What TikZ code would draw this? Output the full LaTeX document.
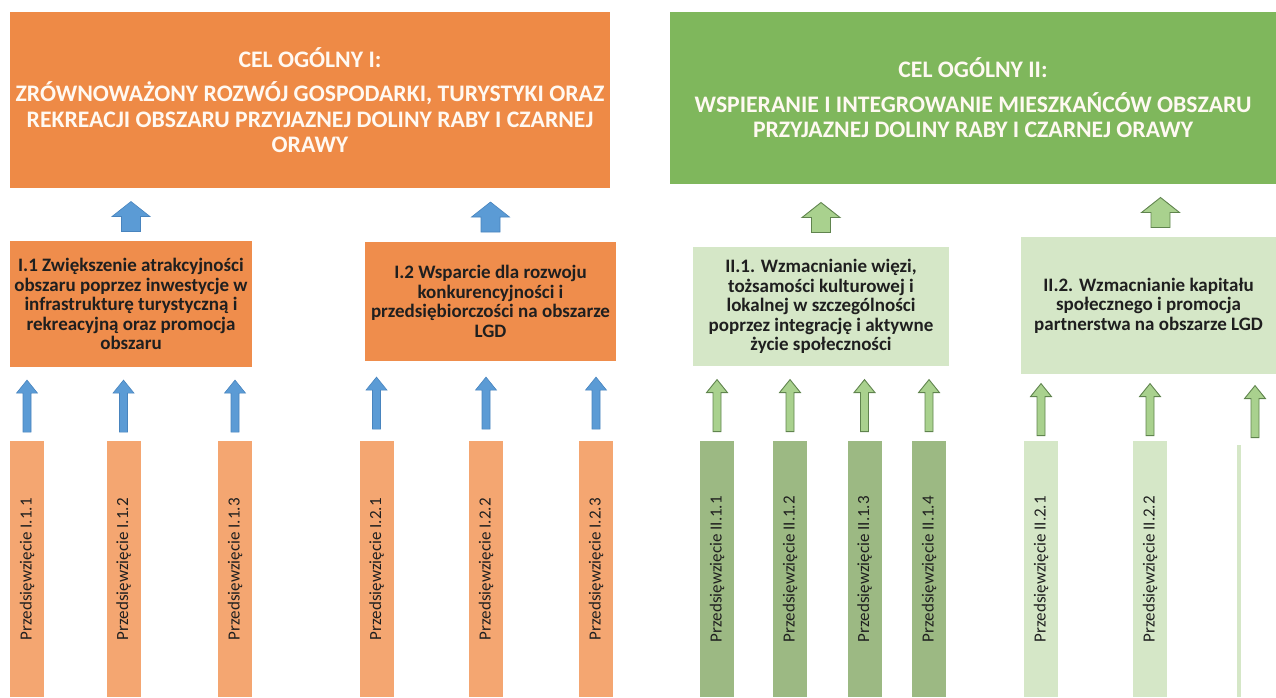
\documentclass[tikz,border=0pt]{standalone}
\usepackage{fontspec}
\setmainfont{Carlito}
\usepackage{graphicx}
\usetikzlibrary{calc}
\definecolor{goalOrange}{RGB}{238,138,70}
\definecolor{aimOrange}{RGB}{239,141,76}
\definecolor{taskOrange}{RGB}{244,166,113}
\definecolor{goalGreen}{RGB}{127,183,92}
\definecolor{aimGreen}{RGB}{213,231,199}
\definecolor{taskGreen}{RGB}{156,185,131}
\definecolor{taskLight}{RGB}{213,231,199}
\definecolor{arrowBlue}{RGB}{91,155,213}
\definecolor{arrowBlueEdge}{RGB}{72,132,190}
\definecolor{arrowGreen}{RGB}{169,209,142}
\definecolor{arrowGreenEdge}{RGB}{96,132,78}
\colorlet{goalText}{white!95!orange}
\colorlet{darkText}{black!88}
\tikzset{blockup/.style n args={4}{to path={let \p1=(\tikztostart),
  \p2=($(\tikztostart)!.5!(\tikztotarget)$) in
  (\x1-#2,\y2-2pt-#1/2) -- (\x1-#2,\y2-2pt+#1/2-#4) -- (\x1-#3,\y2-2pt+#1/2-#4)
  -- (\x1,\y2-2pt+#1/2) -- (\x1+#3,\y2-2pt+#1/2-#4) -- (\x1+#2,\y2-2pt+#1/2-#4)
  -- (\x1+#2,\y2-2pt-#1/2) -- cycle}}}
\tikzstyle{goal}=[rectangle, align=center, inner sep=0pt, text=goalText,
  font=\bfseries\fontsize{23.7}{25.5}\selectfont]
\tikzstyle{aim}=[rectangle, align=center, inner sep=0pt, text=darkText,
  font=\bfseries\fontsize{19}{19.6}\selectfont]
\tikzstyle{task}=[rectangle, anchor=north, inner sep=0pt, minimum width=34pt,
  minimum height=256pt, text=darkText, font=\fontsize{17}{20}\selectfont]
\tikzstyle{bigup}=[blockup={30pt}{9.5pt}{19pt}{15pt}]
\tikzstyle{smallup}=[blockup={52pt}{4pt}{10.5pt}{13pt}]
\tikzstyle{tipI}=[fill=arrowBlue, draw=arrowBlueEdge, line width=0.6pt]
\tikzstyle{tipII}=[fill=arrowGreen, draw=arrowGreenEdge, line width=0.9pt]

\begin{document}
\begin{tikzpicture}[x=1pt, y=-1pt]
  \useasboundingbox (0,0) rectangle (1276,697);
  \node (g1) [goal, fill=goalOrange, minimum width=600pt, minimum height=176pt] at (310,100)
    {CEL OGÓLNY I:\\[9pt]ZRÓWNOWAŻONY ROZWÓJ GOSPODARKI, TURYSTYKI ORAZ\\REKREACJI OBSZARU PRZYJAZNEJ DOLINY RABY I CZARNEJ\\ORAWY};
  \node (g2) [goal, fill=goalGreen, minimum width=606pt, minimum height=172pt] at (973,98)
    {CEL OGÓLNY II:\\[9pt]WSPIERANIE I INTEGROWANIE MIESZKAŃCÓW OBSZARU\\PRZYJAZNEJ DOLINY RABY I CZARNEJ ORAWY};

  \node (a11) [aim, fill=aimOrange, minimum width=242pt, minimum height=126pt] at (131,304)
    {I.1 Zwiększenie atrakcyjności\\obszaru poprzez inwestycje w\\infrastrukturę turystyczną i\\rekreacyjną oraz promocja\\obszaru};
  \node (a12) [aim, fill=aimOrange, minimum width=251pt, minimum height=119pt] at (490.5,301.5)
    {I.2 Wsparcie dla rozwoju\\konkurencyjności i\\przedsiębiorczości na obszarze\\LGD};
  \node (a21) [aim, fill=aimGreen, minimum width=256pt, minimum height=119pt] at (821,306.5)
    {II.1. Wzmacnianie więzi,\\tożsamości kulturowej i\\lokalnej w szczególności\\poprzez integrację i aktywne\\życie społeczności};
  \node (a22) [aim, fill=aimGreen, minimum width=255pt, minimum height=137pt] at (1148.5,305.5)
    {II.2. Wzmacnianie kapitału\\społecznego i promocja\\partnerstwa na obszarze LGD};

  \node (t111) [task, fill=taskOrange] at (27,441) {\rotatebox{90}{Przedsięwzięcie I.1.1}};
  \node (t112) [task, fill=taskOrange] at (123.5,441) {\rotatebox{90}{Przedsięwzięcie I.1.2}};
  \node (t113) [task, fill=taskOrange] at (235,441) {\rotatebox{90}{Przedsięwzięcie I.1.3}};
  \node (t121) [task, fill=taskOrange] at (376.5,441) {\rotatebox{90}{Przedsięwzięcie I.2.1}};
  \node (t122) [task, fill=taskOrange] at (486,441) {\rotatebox{90}{Przedsięwzięcie I.2.2}};
  \node (t123) [task, fill=taskOrange] at (596,441) {\rotatebox{90}{Przedsięwzięcie I.2.3}};
  \node (t211) [task, fill=taskGreen] at (717,441) {\rotatebox{90}{Przedsięwzięcie II.1.1}};
  \node (t212) [task, fill=taskGreen] at (790,441) {\rotatebox{90}{Przedsięwzięcie II.1.2}};
  \node (t213) [task, fill=taskGreen] at (864.5,441) {\rotatebox{90}{Przedsięwzięcie II.1.3}};
  \node (t214) [task, fill=taskGreen] at (929,441) {\rotatebox{90}{Przedsięwzięcie II.1.4}};
  \node (t221) [task, fill=taskLight] at (1041,441) {\rotatebox{90}{Przedsięwzięcie II.2.1}};
  \node (t222) [task, fill=taskLight] at (1150,441) {\rotatebox{90}{Przedsięwzięcie II.2.2}};
  \node (t223) [task, fill=taskLight, minimum width=4pt, minimum height=252pt] at (1239,445) {};

  \draw [tipI, bigup] (a11.north) to (g1.south);
  \draw [tipI, bigup] (a12.north) to (g1.south -| a12.north);
  \draw [tipII, bigup] (a21.north) to (g2.south -| a21.north);
  \draw [tipII, bigup] ([xshift=12pt]a22.north) to (g2.south -| a22.north);

  \draw [tipI, smallup] (t111.north) to (a11.south);
  \draw [tipI, smallup] (t112.north) to (a11.south);
  \draw [tipI, smallup] (t113.north) to (a11.south);
  \draw [tipI, smallup] (t121.north) to (a12.south);
  \draw [tipI, smallup] (t122.north) to (a12.south);
  \draw [tipI, smallup] (t123.north) to (a12.south);
  \draw [tipII, smallup] (t211.north) to (a21.south);
  \draw [tipII, smallup] (t212.north) to (a21.south);
  \draw [tipII, smallup] (t213.north) to (a21.south);
  \draw [tipII, smallup] (t214.north) to (a21.south);
  \draw [tipII, smallup] (t221.north) to (a22.south);
  \draw [tipII, smallup] (t222.north) to (a22.south);
  \draw [tipII, smallup] ([xshift=16pt]t223.north) to (a22.south);
\end{tikzpicture}
\end{document}
